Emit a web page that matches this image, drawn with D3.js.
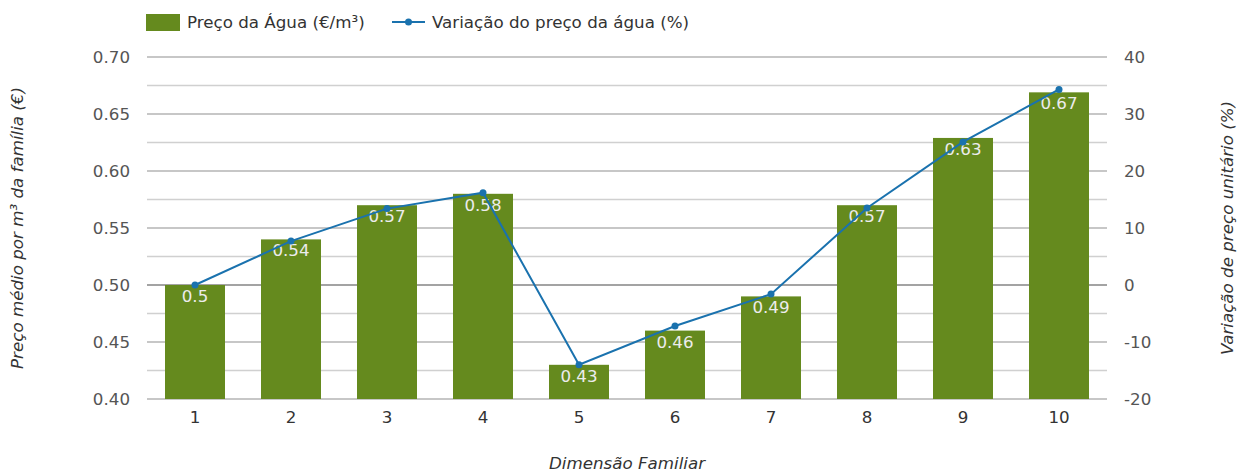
<!DOCTYPE html>
<html><head><meta charset="utf-8">
<script src="https://cdn.jsdelivr.net/npm/d3@7"></script>
<style>body{margin:0;background:#fff;} text{font-family:"DejaVu Sans",sans-serif;}</style>
</head><body>
<svg id="c" width="1237" height="472"></svg>
<script>
const categories = ["1","2","3","4","5","6","7","8","9","10"];
const prices = [0.5, 0.54, 0.57, 0.58, 0.43, 0.46, 0.49, 0.57, 0.629, 0.669];
const priceLabels = ["0.5","0.54","0.57","0.58","0.43","0.46","0.49","0.57","0.63","0.67"];
const variation = [0, 7.7, 13.4, 16.2, -14, -7.2, -1.6, 13.5, 25.1, 34.3];
const leftTicks = [0.40, 0.45, 0.50, 0.55, 0.60, 0.65, 0.70];
const rightTicks = [-20, -10, 0, 10, 20, 30, 40];
const minorTicks = [-15, -5, 5, 15, 25, 35];

const FS = 16.7;
const svg = d3.select("#c");
const L = 147, R = 1107, T = 57, B = 399;
const x = d3.scaleBand().domain(categories).range([L, R]).paddingInner(0.375).paddingOuter(0.1875);
const yL = d3.scaleLinear().domain([0.40, 0.70]).range([B, T]);
const yR = d3.scaleLinear().domain([-20, 40]).range([B, T]);

// minor grid
svg.append("g").selectAll("line").data(minorTicks).join("line")
  .attr("x1", L).attr("x2", R).attr("y1", d => yR(d)).attr("y2", d => yR(d))
  .attr("stroke", "#d0d0d0").attr("stroke-width", 1.5);
// major grid
svg.append("g").selectAll("line").data(rightTicks).join("line")
  .attr("x1", L).attr("x2", R).attr("y1", d => yR(d)).attr("y2", d => yR(d))
  .attr("stroke", d => d === 0 ? "#858585" : "#b5b5b5").attr("stroke-width", 1.5);

// left axis
const gl = svg.append("g").attr("transform", `translate(${L},0)`)
  .call(d3.axisLeft(yL).tickValues(leftTicks).tickFormat(d3.format(".2f")).tickSize(0).tickPadding(17));
gl.select(".domain").remove();
gl.selectAll("text").attr("font-size", FS).attr("fill", "#555").attr("font-family", "DejaVu Sans");

// right axis
const gr = svg.append("g").attr("transform", `translate(${R},0)`)
  .call(d3.axisRight(yR).tickValues(rightTicks).tickFormat(d => String(d)).tickSize(0).tickPadding(17));
gr.select(".domain").remove();
gr.selectAll("text").attr("font-size", FS).attr("fill", "#555").attr("font-family", "DejaVu Sans");

// x axis
const gx = svg.append("g").attr("transform", `translate(0,${B})`)
  .call(d3.axisBottom(x).tickSize(0).tickPadding(12));
gx.select(".domain").remove();
gx.selectAll("text").attr("font-size", FS).attr("fill", "#333").attr("font-family", "DejaVu Sans");

// bars
svg.append("g").selectAll("rect").data(prices).join("rect")
  .attr("x", (d, i) => x(categories[i])).attr("width", x.bandwidth())
  .attr("y", d => yL(d)).attr("height", d => B - yL(d))
  .attr("fill", "#658a1e");

// bar labels
svg.append("g").selectAll("text").data(prices).join("text")
  .attr("x", (d, i) => x(categories[i]) + x.bandwidth() / 2)
  .attr("y", d => yL(d) + 17)
  .attr("text-anchor", "middle").attr("font-size", FS).attr("fill", "#ececec")
  .text((d, i) => priceLabels[i]);

// line
const line = d3.line().x((d, i) => x(categories[i]) + x.bandwidth() / 2).y(d => yR(d));
svg.append("path").datum(variation).attr("d", line)
  .attr("fill", "none").attr("stroke", "#1a72ae").attr("stroke-width", 2);
svg.append("g").selectAll("circle").data(variation).join("circle")
  .attr("cx", (d, i) => x(categories[i]) + x.bandwidth() / 2).attr("cy", d => yR(d))
  .attr("r", 3.5).attr("fill", "#1a72ae");

// legend
svg.append("rect").attr("x", 146).attr("y", 14).attr("width", 34).attr("height", 17).attr("fill", "#658a1e");
svg.append("text").attr("x", 187).attr("y", 28).attr("font-size", FS).attr("fill", "#333").text("Preço da Água (€/m³)");
svg.append("line").attr("x1", 392).attr("x2", 425).attr("y1", 22).attr("y2", 22).attr("stroke", "#1a72ae").attr("stroke-width", 2);
svg.append("circle").attr("cx", 408.5).attr("cy", 22).attr("r", 3.5).attr("fill", "#1a72ae");
svg.append("text").attr("x", 432).attr("y", 28).attr("font-size", FS).attr("fill", "#333").text("Variação do preço da água (%)");

// axis titles
svg.append("text").attr("transform", `translate(23,${(T + B) / 2}) rotate(-90)`)
  .attr("text-anchor", "middle").attr("font-size", FS).attr("font-style", "italic").attr("fill", "#333")
  .text("Preço médio por m³ da família (€)");
svg.append("text").attr("transform", `translate(1233,${(T + B) / 2}) rotate(-90)`)
  .attr("text-anchor", "middle").attr("font-size", FS).attr("font-style", "italic").attr("fill", "#333")
  .text("Variação de preço unitário (%)");
svg.append("text").attr("x", (L + R) / 2).attr("y", 469)
  .attr("text-anchor", "middle").attr("font-size", FS).attr("font-style", "italic").attr("fill", "#333")
  .text("Dimensão Familiar");
</script>
</body></html>
